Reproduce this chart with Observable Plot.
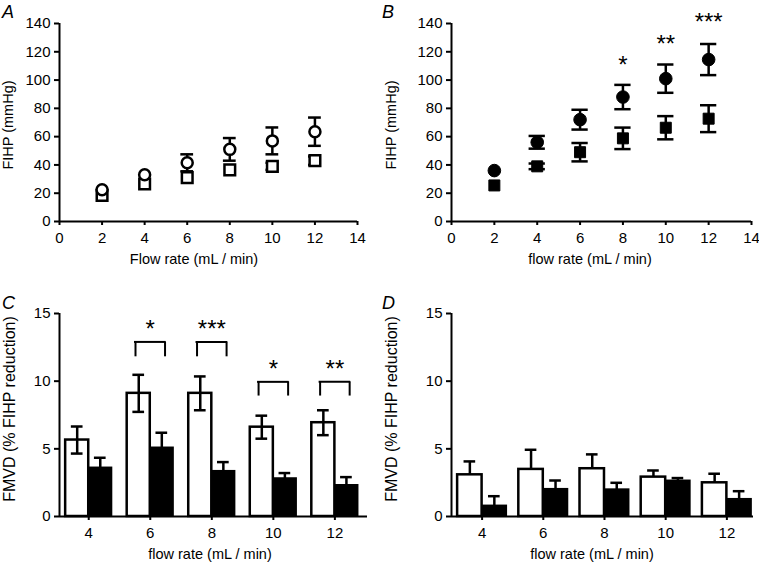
<!DOCTYPE html>
<html><head><meta charset="utf-8">
<script src="https://cdn.jsdelivr.net/npm/d3@7"></script>
<script src="https://cdn.jsdelivr.net/npm/@observablehq/plot@0.6"></script>
<style>
body{margin:0;background:#fff;font-family:"Liberation Sans",Arial,Helvetica,sans-serif;}
#fig{position:relative;width:759px;height:562px;overflow:hidden;background:#fff}
.panel{position:absolute}
</style></head><body><div id="fig"></div>
<script>
// ---- Data ----
const flowAB = [2, 4, 6, 8, 10, 12];
const xTicksAB = [0, 2, 4, 6, 8, 10, 12, 14];
const yTicksAB = [0, 20, 40, 60, 80, 100, 120, 140];
const aOpenMean = [22.5, 33, 41.5, 51, 57, 63.5];
const aOpenErr = [0, 0, 6, 8, 9.5, 10];
const aSquareMean = [18.5, 26.5, 31, 36.5, 39, 43];
const aSquareErr = [0, 0, 0, 0, 2.5, 3];
const bCircleMean = [36, 56, 72, 88, 101, 114.5];
const bCircleErr = [0, 4.5, 7, 8.6, 10, 11];
const bSquareMean = [25.5, 39, 49, 58.8, 66.3, 72.7];
const bSquareErr = [0, 2, 6.5, 7.6, 8.2, 9.5];
const bSigFlow = [8, 10, 12];
const bSigLabel = ["*", "**", "***"];
const bSigY = [112, 127, 142];

const flowCD = [4, 6, 8, 10, 12];
const yTicksCD = [0, 5, 10, 15];
const cWhite = [5.65, 9.1, 9.1, 6.6, 6.93];
const cWhiteErr = [1.0, 1.37, 1.25, 0.85, 0.92];
const cBlack = [3.58, 5.06, 3.33, 2.79, 2.29];
const cBlackErr = [0.76, 1.13, 0.69, 0.42, 0.62];
const cSigFlow = [6, 8, 10, 12];
const cSigLabel = ["*", "***", "*", "**"];
const cBracketTop = [12.9, 12.9, 9.95, 9.95];
const cBracketLeg = [11.8, 11.8, 8.9, 8.9];
const cSigY = [14.1, 14.1, 11.2, 11.2];
const dWhite = [3.08, 3.48, 3.53, 2.91, 2.49];
const dWhiteErr = [0.99, 1.45, 1.06, 0.49, 0.67];
const dBlack = [0.77, 2.0, 1.97, 2.62, 1.26];
const dBlackErr = [0.73, 0.66, 0.52, 0.22, 0.61];

// ---- Helpers ----
const FONT = "Liberation Sans, Arial, Helvetica, sans-serif";
const style = {fontFamily: FONT, fontSize: "15px", color: "black", background: "white", overflow: "visible"};
const rows = (xs, means, errs) => xs.map((f, i) => ({flow: f, mean: means[i], err: errs[i]}));

function errorBars(all, {cap, xOf = d => d.flow, up = true, down = true, sw = 2.5}) {
  const data = all.filter(d => d.err > 0);
  const marks = [Plot.ruleX(data, {x: xOf, y1: d => down ? d.mean - d.err : d.mean, y2: d => up ? d.mean + d.err : d.mean, strokeWidth: sw, stroke: "black"})];
  if (up) marks.push(Plot.ruleY(data, {y: d => d.mean + d.err, x1: d => xOf(d) - cap, x2: d => xOf(d) + cap, strokeWidth: sw, stroke: "black"}));
  if (down) marks.push(Plot.ruleY(data, {y: d => d.mean - d.err, x1: d => xOf(d) - cap, x2: d => xOf(d) + cap, strokeWidth: sw, stroke: "black"}));
  return marks;
}
function axes(xt, yt) {
  return [
    Plot.axisX({ticks: xt, tickSize: 4, tickPadding: 7, label: null, strokeWidth: 2, fontSize: 15}),
    Plot.axisY({ticks: yt, tickSize: 5, tickPadding: 4, label: null, strokeWidth: 2, fontSize: 15})
  ];
}
function place(node, left, top) {
  const div = document.createElement("div");
  div.className = "panel";
  div.style.left = left + "px";
  div.style.top = top + "px";
  div.appendChild(node);
  document.getElementById("fig").appendChild(div);
}

// ---- Panel A ----
const aOpen = rows(flowAB, aOpenMean, aOpenErr);
const aSq = rows(flowAB, aSquareMean, aSquareErr);
place(Plot.plot({
  width: 380, height: 280, marginLeft: 59, marginRight: 23, marginTop: 23, marginBottom: 59,
  x: {domain: [0, 14]}, y: {domain: [0, 140]}, style,
  marks: [
    ...axes(xTicksAB, yTicksAB),
    Plot.ruleX([0], {strokeWidth: 2, insetBottom: -1}),
    Plot.ruleY([0], {strokeWidth: 2}),
    ...errorBars(aSq, {cap: 0.3}),
    ...errorBars(aOpen, {cap: 0.3}),
    Plot.dot(aSq, {x: "flow", y: "mean", symbol: "square", r: 6, fill: "white", stroke: "black", strokeWidth: 2.5}),
    Plot.dot(aOpen, {x: "flow", y: "mean", symbol: "circle", r: 5.5, fill: "white", stroke: "black", strokeWidth: 2.5})
  ]
}), 0, 0);

// ---- Panel B ----
const bCirc = rows(flowAB, bCircleMean, bCircleErr);
const bSq = rows(flowAB, bSquareMean, bSquareErr);
const bSig = bSigFlow.map((f, i) => ({flow: f, label: bSigLabel[i], y: bSigY[i]}));
place(Plot.plot({
  width: 379, height: 280, marginLeft: 71, marginRight: 8, marginTop: 23, marginBottom: 59,
  x: {domain: [0, 14]}, y: {domain: [0, 140]}, style,
  marks: [
    ...axes(xTicksAB, yTicksAB),
    Plot.ruleX([0], {strokeWidth: 2, insetBottom: -1}),
    Plot.ruleY([0], {strokeWidth: 2}),
    ...errorBars(bSq, {cap: 0.38}),
    ...errorBars(bCirc, {cap: 0.38}),
    Plot.dot(bSq, {x: "flow", y: "mean", symbol: "square", r: 6.2, fill: "black", stroke: "black", strokeWidth: 1}),
    Plot.dot(bCirc, {x: "flow", y: "mean", symbol: "circle", r: 6.3, fill: "black", stroke: "black", strokeWidth: 1}),
    Plot.text(bSig, {x: "flow", y: "y", text: "label", fontSize: 24, dy: 2})
  ]
}), 380, 0);

// ---- Panels C & D ----
function barPanel(white, whiteErr, black, blackErr, w, domain, ml, mr, whiteDown, sig) {
  const wd = rows(flowCD, white, whiteErr);
  const bd = rows(flowCD, black, blackErr);
  const marks = [
    ...axes(flowCD, yTicksCD),
    Plot.rect(bd, {x1: d => d.flow, x2: d => d.flow + w, y1: d => 0, y2: "mean", fill: "black", stroke: "black", strokeWidth: 2}),
    Plot.rect(wd, {x1: d => d.flow - w, x2: d => d.flow, y1: d => 0, y2: "mean", fill: "white", stroke: "black", strokeWidth: 2.5}),
    ...errorBars(wd, {cap: 0.19, xOf: d => d.flow - w / 2, down: whiteDown}),
    ...errorBars(bd, {cap: 0.19, xOf: d => d.flow + w / 2, down: false}),
    Plot.ruleX([domain[0]], {strokeWidth: 2, insetBottom: -1}),
    Plot.ruleY([0], {strokeWidth: 2})
  ];
  if (sig) {
    marks.push(
      Plot.ruleY(sig, {y: "top", x1: d => d.flow - 0.48, x2: d => d.flow + 0.48, strokeWidth: 2, strokeLinecap: "square"}),
      Plot.ruleX(sig, {x: d => d.flow - 0.48, y1: "leg", y2: "top", strokeWidth: 2}),
      Plot.ruleX(sig, {x: d => d.flow + 0.48, y1: "leg", y2: "top", strokeWidth: 2}),
      Plot.text(sig, {x: "flow", y: "y", text: "label", fontSize: 24, dy: 4})
    );
  }
  return Plot.plot({
    width: ml === 59 ? 380 : 379, height: 282, marginLeft: ml, marginRight: mr, marginTop: 33, marginBottom: 46,
    x: {domain}, y: {domain: [0, 15]}, style, marks
  });
}
const cSig = cSigFlow.map((f, i) => ({flow: f, label: cSigLabel[i], top: cBracketTop[i], leg: cBracketLeg[i], y: cSigY[i]}));
place(barPanel(cWhite, cWhiteErr, cBlack, cBlackErr, 0.75, [3.05, 13.06], 59, 13, true, cSig), 0, 280);
place(barPanel(dWhite, dWhiteErr, dBlack, dBlackErr, 0.8, [3.0, 12.87], 71, 6, false, null), 380, 280);

// ---- Overlay labels ----
const ov = d3.select("#fig").append("svg")
  .attr("width", 759).attr("height", 562)
  .style("position", "absolute").style("left", 0).style("top", 0).style("pointer-events", "none")
  .attr("font-family", FONT);
const letters = [["A", 2, 18], ["B", 382, 18], ["C", 2, 309], ["D", 382, 309]];
ov.selectAll("text.letter").data(letters).join("text").attr("class", "letter")
  .attr("x", d => d[1]).attr("y", d => d[2]).attr("font-size", 18).attr("font-style", "italic").text(d => d[0]);
const xLabels = [["Flow rate (mL / min)", 194, 259], ["flow rate (mL / min)", 590, 259], ["flow rate (mL / min)", 210, 554], ["flow rate (mL / min)", 592, 554]];
ov.selectAll("text.xl").data(xLabels).join("text").attr("class", "xl")
  .attr("x", d => d[1]).attr("y", d => d[2]).attr("font-size", 14.5).attr("text-anchor", "middle").attr("dominant-baseline", "central").text(d => d[0]);
const yLabels = [["FIHP (mmHg)", 8, 125, 14.5], ["FIHP (mmHg)", 391, 125, 14.5], ["FMVD (% FIHP reduction)", 9, 409, 16], ["FMVD (% FIHP reduction)", 391, 409, 16]];
ov.selectAll("text.yl").data(yLabels).join("text").attr("class", "yl")
  .attr("transform", d => `translate(${d[1]},${d[2]}) rotate(-90)`).attr("font-size", d => d[3])
  .attr("text-anchor", "middle").attr("dominant-baseline", "central").text(d => d[0]);
</script></body></html>
